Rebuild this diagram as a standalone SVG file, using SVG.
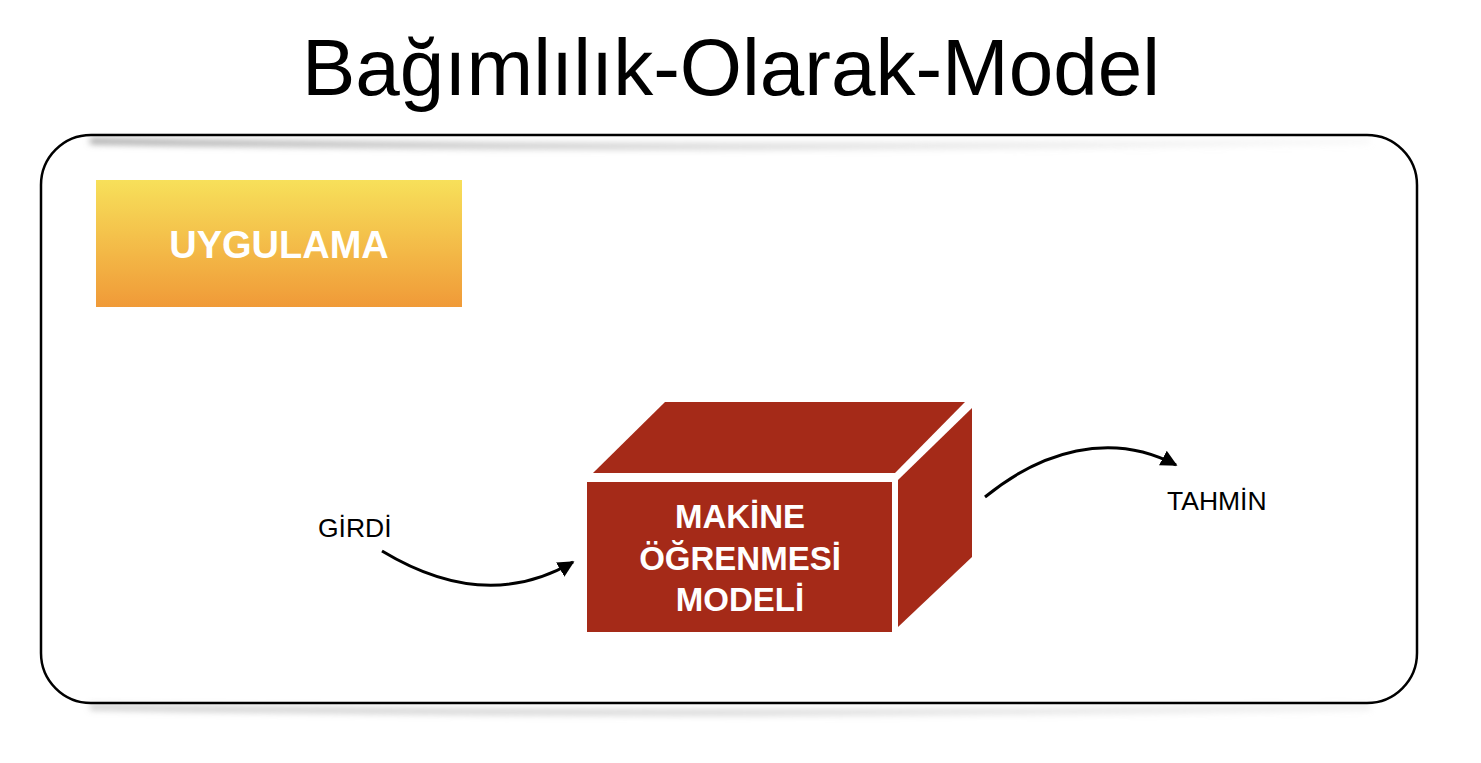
<svg xmlns="http://www.w3.org/2000/svg" width="1481" height="763" viewBox="0 0 1481 763">
<defs>
<style>
.title{font-family:"Liberation Sans",Arial,sans-serif;font-size:80px;fill:#000}
.wlabel{font-family:"Liberation Sans",Arial,sans-serif;font-weight:bold;fill:#fff;text-anchor:middle}
.big{font-size:38px}
.med{font-size:33px}
.blabel{font-family:"Liberation Sans",Arial,sans-serif;font-size:26.5px;fill:#000}
.conn{fill:none;stroke:#000;stroke-width:3}
.cube{fill:#A52A18}
</style>
<linearGradient id="gOrange" x1="0" y1="0" x2="0" y2="1">
<stop offset="0" stop-color="#F7E05A"/>
<stop offset="1" stop-color="#F09A38"/>
</linearGradient>
<linearGradient id="shTop" x1="0" y1="0" x2="1" y2="0">
<stop offset="0" stop-color="#999" stop-opacity="0.9"/>
<stop offset="0.5" stop-color="#bbb" stop-opacity="0.6"/>
<stop offset="1" stop-color="#ddd" stop-opacity="0.2"/>
</linearGradient>
<linearGradient id="shBot" x1="0" y1="0" x2="1" y2="0">
<stop offset="0" stop-color="#999" stop-opacity="0.5"/>
<stop offset="0.5" stop-color="#bbb" stop-opacity="0.6"/>
<stop offset="1" stop-color="#ccc" stop-opacity="0.3"/>
</linearGradient>
<filter id="blur" x="-10%" y="-200%" width="120%" height="500%">
<feGaussianBlur stdDeviation="3"/>
</filter>
<marker id="arrow" viewBox="0 0 10 10" refX="9" refY="5" markerWidth="5.5" markerHeight="5.5" orient="auto" markerUnits="strokeWidth">
<path d="M0,0 L10,5 L0,10 z" fill="#000"/>
</marker>
</defs>
<rect width="1481" height="763" fill="#fff"/>
<text class="title" x="731" y="95" text-anchor="middle">Bağımlılık-Olarak-Model</text>
<g id="container">
<path d="M90,141 Q730,152 1370,141" stroke="url(#shTop)" stroke-width="6" fill="none" filter="url(#blur)"/>
<path d="M90,707 Q730,718 1370,707" stroke="url(#shBot)" stroke-width="6" fill="none" filter="url(#blur)"/>
<rect x="41" y="135" width="1376" height="568" rx="50" ry="50" fill="none" stroke="#000" stroke-width="2.5"/>
</g>
<g id="uygulama">
<rect x="96" y="180" width="366" height="127" fill="url(#gOrange)"/>
<text class="wlabel big" x="279" y="258">UYGULAMA</text>
</g>
<g id="model">
<polygon class="cube" points="593,473 665,402 965,402 895,473"/>
<polygon class="cube" points="898,480 972,408 972,557 898,627"/>
<rect class="cube" x="587" y="482" width="305" height="150"/>
<text class="wlabel med" x="740" y="528">MAKİNE</text>
<text class="wlabel med" x="740" y="570">ÖĞRENMESİ</text>
<text class="wlabel med" x="740" y="611">MODELİ</text>
</g>
<g id="girdi">
<text class="blabel" x="318" y="537">GİRDİ</text>
</g>
<g id="tahmin">
<text class="blabel" x="1167" y="510">TAHMİN</text>
</g>
<g id="connectors">
<path class="conn" d="M382,551 C430,580 500,605 573,562" marker-end="url(#arrow)"/>
<path class="conn" d="M985,497 C1040,452 1110,430 1176,465" marker-end="url(#arrow)"/>
</g>
</svg>
